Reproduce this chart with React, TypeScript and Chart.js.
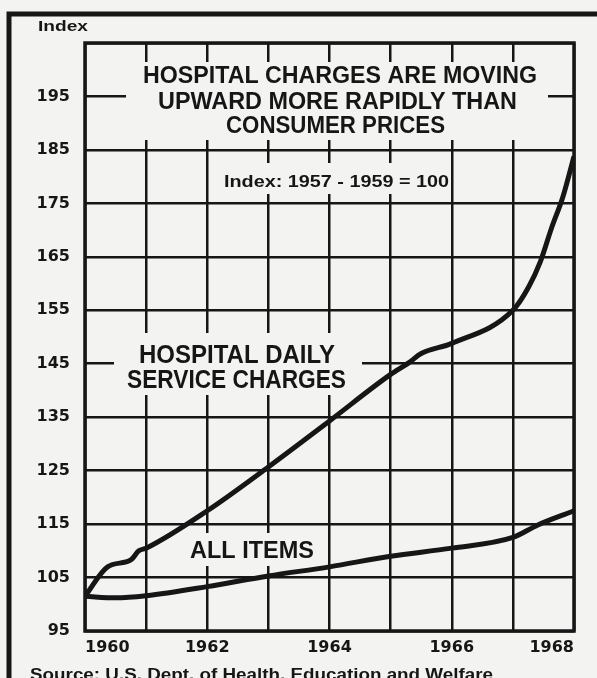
import React, { useEffect, useRef } from 'react';
import { Chart, registerables } from 'chart.js';

Chart.register(...registerables);

// ---- Data ----
const hospitalYears = [1960, 1960.37, 1960.75, 1960.88, 1961, 1962, 1963, 1964, 1965, 1965.3, 1965.5, 1966, 1967, 1967.26, 1967.45, 1967.63, 1967.82, 1968];
const hospitalValues = [101.5, 107, 108.3, 110, 110.5, 117.5, 125.7, 134.3, 143, 145.2, 146.9, 148.8, 155, 159.4, 164.1, 170.3, 176.3, 183.8];

const allItemsYears = [1960, 1960.5, 1961, 1962, 1963, 1964, 1965, 1966, 1967, 1967.4, 1968];
const allItemsValues = [101.5, 101.2, 101.6, 103.3, 105.3, 107, 109, 110.5, 112.5, 114.8, 117.5];

const xTickLabels = ['1960', '1962', '1964', '1966', '1968'];
const yTickLabels = ['95', '105', '115', '125', '135', '145', '155', '165', '175', '185', '195'];

const titleLines = ['HOSPITAL CHARGES ARE MOVING', 'UPWARD MORE RAPIDLY THAN', 'CONSUMER PRICES'];
const subtitleText = 'Index: 1957 - 1959 = 100';
const hospitalLabel = ['HOSPITAL DAILY', 'SERVICE CHARGES'];
const allItemsLabel = 'ALL ITEMS';
const axisTitle = 'Index';
const sourceText = 'Source: U.S. Dept. of Health, Education and Welfare';

const PAPER = '#f3f3f1';
const INK = '#161616';

function fitText(
  ctx: CanvasRenderingContext2D,
  text: string,
  cx: number,
  baseline: number,
  width: number,
  size: number,
  family: string,
  align: 'center' | 'left' = 'center'
) {
  ctx.save();
  ctx.font = `bold ${size}px ${family}`;
  const w = ctx.measureText(text).width;
  ctx.translate(cx, baseline);
  ctx.scale(width / w, 1);
  ctx.textAlign = align;
  ctx.textBaseline = 'alphabetic';
  ctx.fillStyle = INK;
  ctx.fillText(text, 0, 0);
  ctx.restore();
}

const decorPlugin = {
  id: 'decor',
  beforeDraw(chart: any) {
    const ctx = chart.ctx as CanvasRenderingContext2D;
    ctx.save();
    ctx.fillStyle = PAPER;
    ctx.fillRect(0, 0, chart.width, chart.height);
    ctx.restore();
  },
  beforeDatasetsDraw(chart: any) {
    const ctx = chart.ctx as CanvasRenderingContext2D;
    ctx.save();
    ctx.fillStyle = PAPER;
    // white-out blocks behind the annotations (interrupt the grid)
    ctx.fillRect(126, 62, 422, 78);
    ctx.fillRect(222, 163, 223, 31);
    ctx.fillRect(114, 333, 248, 62);
    ctx.fillRect(186, 533, 132, 33);
    ctx.restore();

    const sans = '"Liberation Sans", Arial, sans-serif';
    fitText(ctx, titleLines[0], 340, 83, 394, 24, sans);
    fitText(ctx, titleLines[1], 337.5, 109, 359, 24, sans);
    fitText(ctx, titleLines[2], 335.5, 133, 219, 24, sans);
    fitText(ctx, subtitleText, 336.5, 187, 225, 16, sans);
    fitText(ctx, hospitalLabel[0], 237, 363, 196, 25, sans);
    fitText(ctx, hospitalLabel[1], 236.5, 388, 219, 25, sans);
    fitText(ctx, allItemsLabel, 252, 558, 124, 23, sans);
  },
  afterDraw(chart: any) {
    const ctx = chart.ctx as CanvasRenderingContext2D;
    const a = chart.chartArea;
    ctx.save();
    ctx.strokeStyle = INK;
    ctx.lineWidth = 3.5;
    ctx.strokeRect(a.left, a.top, a.right - a.left, a.bottom - a.top);

    // outer frame (top and left rules)
    ctx.lineWidth = 5;
    ctx.beginPath();
    ctx.moveTo(597, 14);
    ctx.lineTo(9, 14);
    ctx.lineTo(9, 678);
    ctx.stroke();
    ctx.restore();

    const sans = '"Liberation Sans", Arial, sans-serif';
    fitText(ctx, axisTitle, 38, 31, 50, 15, sans, 'left');
    fitText(ctx, sourceText, 30, 680, 463, 16, sans, 'left');
  },
};

export default function App() {
  const canvasRef = useRef<HTMLCanvasElement | null>(null);

  useEffect(() => {
    document.body.style.margin = '0';
    const canvas = canvasRef.current;
    if (!canvas) return;

    const hospitalData = hospitalYears.map((x, i) => ({ x, y: hospitalValues[i] }));
    const allItemsData = allItemsYears.map((x, i) => ({ x, y: allItemsValues[i] }));
    const tickFont = { family: '"DejaVu Sans", sans-serif', size: 16, weight: 'bold' as const };

    const chart = new Chart(canvas, {
      type: 'line',
      data: {
        datasets: [
          {
            label: 'Hospital daily service charges',
            data: hospitalData,
            borderColor: INK,
            borderWidth: 5,
            pointRadius: 0,
            cubicInterpolationMode: 'monotone',
            fill: false,
          },
          {
            label: 'All items',
            data: allItemsData,
            borderColor: INK,
            borderWidth: 5,
            pointRadius: 0,
            cubicInterpolationMode: 'monotone',
            fill: false,
          },
        ],
      },
      options: {
        responsive: false,
        animation: false,
        layout: { padding: { top: 43, right: 23, left: 0, bottom: 0 } },
        plugins: {
          legend: { display: false },
          tooltip: { enabled: false },
          title: { display: false },
        },
        scales: {
          x: {
            type: 'linear',
            min: 1960,
            max: 1968,
            border: { display: false },
            grid: { color: INK, lineWidth: 2.5, drawTicks: false },
            ticks: {
              stepSize: 1,
              autoSkip: false,
              maxRotation: 0,
              align: 'inner',
              padding: 7,
              color: INK,
              font: tickFont,
              callback: (v: any) => {
                const s = String(Math.round(Number(v)));
                return xTickLabels.includes(s) ? s : '';
              },
            },
            afterFit: (scale: any) => {
              scale.height = 47;
            },
          },
          y: {
            type: 'linear',
            min: 95,
            max: 205,
            border: { display: false },
            grid: { color: INK, lineWidth: 2.5, drawTicks: false },
            ticks: {
              stepSize: 10,
              autoSkip: false,
              padding: 15,
              color: INK,
              font: tickFont,
              callback: (v: any) => {
                const s = String(Math.round(Number(v)));
                return yTickLabels.includes(s) ? s : '';
              },
            },
            afterFit: (scale: any) => {
              scale.width = 85;
            },
          },
        },
      },
      plugins: [decorPlugin],
    });

    return () => chart.destroy();
  }, []);

  return (
    <div style={{ width: 597, height: 678 }}>
      <canvas ref={canvasRef} width={597} height={678} style={{ display: 'block' }} />
    </div>
  );
}
